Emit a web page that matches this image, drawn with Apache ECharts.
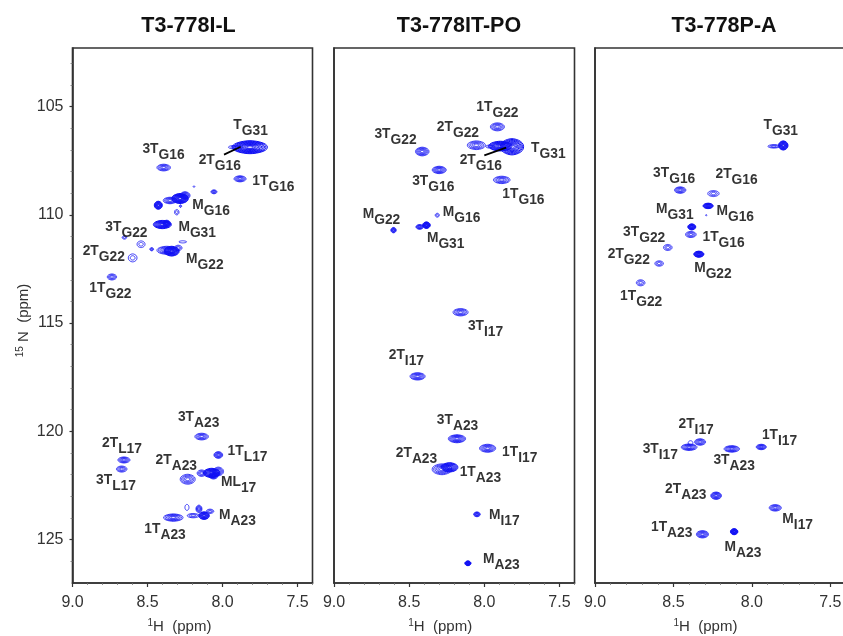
<!DOCTYPE html>
<html><head><meta charset="utf-8">
<style>html,body{margin:0;padding:0;background:#fff;overflow:hidden}#c{width:843px;height:636px}</style>
<script src="https://cdn.jsdelivr.net/npm/echarts@6/dist/echarts.min.js"></script>
</head><body><div id="c"></div>
<script>
// Peaks: [1H ppm, 15N ppm, 1H extent, 15N extent, contour levels]
const peaksIL = [
 [7.817,106.88,.233,.60,11],[7.91,106.88,.10,.18,3],[8.392,107.82,.09,.31,5],[7.883,108.34,.08,.28,5],[8.057,108.94,.04,.18,4],[8.19,108.7,.012,.06,1],
 [8.428,109.56,.053,.37,9],[8.35,109.34,.09,.30,5],[8.283,109.25,.11,.46,12],[8.25,109.11,.067,.35,6],[8.305,109.88,.03,.25,2],[8.28,109.6,.015,.12,2],
 [8.401,110.45,.12,.38,9],[8.372,110.40,.05,.30,7],[8.654,111.05,.03,.15,2],[8.543,111.36,.053,.31,2],[8.599,111.99,.058,.37,2],[8.472,111.59,.025,.15,3],
 [8.372,111.64,.13,.37,6],[8.339,111.68,.10,.45,10],[8.295,111.53,.05,.25,3],[8.265,111.25,.05,.10,1],[8.737,112.87,.062,.28,4],
 [8.139,120.24,.09,.31,5],[8.028,121.09,.058,.31,6],[8.657,121.32,.08,.28,5],[8.672,121.74,.07,.28,4],[8.232,122.21,.10,.46,5],
 [8.139,121.93,.06,.30,4],[8.072,121.92,.11,.43,10],[8.028,121.85,.07,.40,5],[8.06,122.05,.06,.30,6],[8.328,123.98,.13,.34,6],
 [8.237,123.51,.027,.28,1],[8.157,123.58,.04,.35,5],[8.195,123.89,.08,.20,3],[8.123,123.89,.07,.35,9],[8.083,123.69,.05,.20,3]
];
const peaksIT = [
 [7.913,105.94,.093,.37,5],[8.053,106.79,.12,.40,5],[7.816,106.86,.155,.75,9],[7.893,106.83,.155,.45,9],[7.96,106.85,.06,.15,2],[8.413,107.08,.09,.40,6],
 [8.30,107.93,.093,.34,6],[7.884,108.39,.11,.34,5],[8.313,110.02,.027,.18,2],[8.43,110.56,.05,.22,6],[8.385,110.48,.05,.30,10],[8.604,110.71,.035,.25,6],
 [8.158,114.5,.10,.34,5],[8.444,117.46,.10,.34,6],[8.182,120.34,.115,.37,7],[7.978,120.78,.107,.37,6],[8.282,121.75,.13,.50,6],[8.231,121.66,.11,.43,8],
 [8.049,123.83,.044,.22,6],[8.109,126.09,.04,.22,9]
];
const peaksPA = [
 [7.80,106.80,.06,.42,10],[7.86,106.84,.075,.16,3],[8.457,108.86,.072,.30,5],[8.245,109.02,.072,.28,3],[8.279,109.59,.064,.25,9],[8.291,110.02,.008,.06,1],
 [8.383,110.56,.05,.28,9],[8.389,110.91,.068,.28,4],[8.536,111.51,.055,.28,3],[8.591,112.25,.055,.25,3],[8.338,111.82,.064,.28,10],[8.709,113.14,.055,.28,3],
 [8.33,120.49,.07,.30,5],[8.391,120.53,.03,.20,1],[8.40,120.73,.10,.30,6],[8.128,120.81,.098,.30,6],[7.94,120.72,.064,.25,6],[8.228,122.97,.068,.34,7],
 [7.851,123.53,.077,.30,5],[8.315,124.75,.077,.34,6],[8.113,124.63,.047,.28,10]
];
// Labels: [1H ppm, 15N ppm, main text, subscript]
const labelsIL = [
 [7.928,105.99,'T','G31'],[8.534,107.11,'3T','G16'],[8.159,107.6,'2T','G16'],[7.801,108.57,'1T','G16'],[8.201,109.68,'M','G16'],[8.294,110.71,'M','G31'],
 [8.781,110.71,'3T','G22'],[8.932,111.84,'2T','G22'],[8.243,112.17,'M','G22'],[8.888,113.53,'1T','G22'],[8.297,119.5,'3T','A23'],[8.803,120.69,'2T','L17'],
 [7.966,121.07,'1T','L17'],[8.446,121.46,'2T','A23'],[8.843,122.41,'3T','L17'],[8.01,122.49,'ML','17'],[8.023,124.0,'M','A23'],[8.521,124.66,'1T','A23']
];
const labelsIT = [
 [8.053,105.18,'1T','G22'],[8.316,106.09,'2T','G22'],[8.731,106.4,'3T','G22'],[7.689,107.06,'T','G31'],[8.164,107.6,'2T','G16'],[8.48,108.6,'3T','G16'],
 [7.88,109.19,'1T','G16'],[8.276,110.02,'M','G16'],[8.809,110.1,'M','G22'],[8.382,111.22,'M','G31'],[8.109,115.27,'3T','I17'],[8.636,116.61,'2T','I17'],
 [8.316,119.64,'3T','A23'],[7.882,121.1,'1T','I17'],[8.589,121.15,'2T','A23'],[8.164,122.0,'1T','A23'],[7.969,124.03,'M','I17'],[8.009,126.05,'M','A23']
];
const labelsPA = [
 [7.926,105.99,'T','G31'],[8.63,108.22,'3T','G16'],[8.232,108.26,'2T','G16'],[8.611,109.87,'M','G31'],[8.226,109.99,'M','G16'],[8.821,110.96,'3T','G22'],
 [8.315,111.17,'1T','G16'],[8.919,111.94,'2T','G22'],[8.368,112.6,'M','G22'],[8.84,113.91,'1T','G22'],[8.468,119.8,'2T','I17'],[7.936,120.3,'1T','I17'],
 [8.696,120.97,'3T','I17'],[8.245,121.49,'3T','A23'],[8.553,122.81,'2T','A23'],[7.806,124.19,'M','I17'],[8.643,124.58,'1T','A23'],[8.174,125.49,'M','A23']
];
const leaderIL = [[7.99,107.22],[7.879,106.86]];
const leaderIT = [[8.0,107.26],[7.855,106.9]];
const titles = ['T3-778I-L','T3-778IT-PO','T3-778P-A'];
const xMajor = [9.0,8.5,8.0,7.5];
const xMinor = [8.9,8.8,8.7,8.6,8.4,8.3,8.2,8.1,7.9,7.8,7.7,7.6,7.4];
const yMajor = [105,110,115,120,125];
const yMinor = [103,104,106,107,108,109,111,112,113,114,116,117,118,119,121,122,123,124,126];

const panels = [
 {peaks:peaksIL,labels:labelsIL,leader:leaderIL,left:72.5,width:240,titleX:183.5,nameShift:26},
 {peaks:peaksIT,labels:labelsIT,leader:leaderIT,left:334,width:240.5,titleX:454,nameShift:28},
 {peaks:peaksPA,labels:labelsPA,leader:null,left:595,width:251,titleX:719,nameShift:30}
];
const frame = '#333';
const sans = '"Liberation Sans",Arial,sans-serif';
const grid=[],xAxis=[],yAxis=[],series=[],title=[];
function lens(cx,cy,a,b){
  const pts=[];
  for(let k=0;k<28;k++){
    const t=k/28*Math.PI*2,c=Math.cos(t),s=Math.sin(t);
    pts.push([cx+a*Math.sign(c)*Math.pow(Math.abs(c),1.2),cy+b*Math.sign(s)*Math.pow(Math.abs(s),0.9)]);
  }
  return pts;
}
function renderPeak(params,api){
  const c=api.coord([api.value(0),api.value(1)]);
  const sz=api.size([api.value(2),api.value(3)]);
  const n=api.value(4),kids=[];
  for(let i=0;i<n;i++){
    const f=n===1?1:1-i/n*0.9;
    kids.push({type:'polygon',shape:{points:lens(c[0],c[1],sz[0]/2*f,sz[1]/2*f)},
      style:{fill:'none',stroke:'#1010f4',lineWidth:n>=8?1:0.8}});
  }
  return {type:'group',children:kids};
}
panels.forEach((p,i)=>{
  title.push({text:titles[i],left:p.titleX,top:10,textAlign:'center',
    textStyle:{fontFamily:sans,fontSize:21.5,fontWeight:'bold',color:'#111'}});
  grid.push({left:p.left,width:p.width,top:48,height:535,show:true,borderColor:frame,borderWidth:1.6,
    backgroundColor:'transparent',outerBoundsMode:'none',containLabel:false});
  const ix=i*2,iy=i*2;
  xAxis.push({type:'value',gridIndex:i,position:'bottom',inverse:true,min:7.4,max:9.0,splitLine:{show:false},
    name:'{sup|1}{n|H  (ppm)}',nameLocation:'middle',nameGap:35,
    nameTextStyle:{padding:[0,p.nameShift,0,0],rich:{
      sup:{fontFamily:sans,fontSize:10,padding:[0,0,7,0],color:'#333'},
      n:{fontFamily:sans,fontSize:15,color:'#333'}}},
    axisLine:{show:true,lineStyle:{color:frame,width:1.6}},
    axisTick:{show:true,length:4,customValues:xMajor,lineStyle:{color:frame,width:1.2}},
    axisLabel:{show:true,margin:12,customValues:xMajor,formatter:v=>v.toFixed(1),fontFamily:sans,fontSize:16,color:'#333'}});
  xAxis.push({type:'value',gridIndex:i,position:'bottom',inverse:true,min:7.4,max:9.0,splitLine:{show:false},
    axisLine:{show:false},axisLabel:{show:false},
    axisTick:{show:true,length:2,customValues:xMinor,lineStyle:{color:'#777',width:0.8}}});
  yAxis.push(Object.assign({type:'value',gridIndex:i,position:'left',inverse:true,min:102.3,max:127,splitLine:{show:false},
    axisLine:{show:true,lineStyle:{color:frame,width:1.6}}},
    i===0?{
      name:'{sup|15}{n| N  (ppm)}',nameLocation:'middle',nameGap:40,
      nameTextStyle:{padding:[0,10,0,0],rich:{
        sup:{fontFamily:sans,fontSize:10,padding:[0,0,7,0],color:'#333'},
        n:{fontFamily:sans,fontSize:15,color:'#333'}}},
      axisTick:{show:true,length:3,customValues:yMajor,lineStyle:{color:frame,width:1.2}},
      axisLabel:{show:true,margin:9,padding:[4,0,0,0],customValues:yMajor,fontFamily:sans,fontSize:16,color:'#333'}
    }:{axisTick:{show:false},axisLabel:{show:false}}));
  yAxis.push({type:'value',gridIndex:i,position:'left',inverse:true,min:102.3,max:127,splitLine:{show:false},
    axisLine:{show:false},axisLabel:{show:false},
    axisTick:{show:i===0,length:2,customValues:yMinor,lineStyle:{color:'#777',width:0.8}}});
  series.push({type:'custom',name:titles[i]+' contours',xAxisIndex:ix,yAxisIndex:iy,coordinateSystem:'cartesian2d',
    clip:true,silent:true,data:p.peaks,renderItem:renderPeak,encode:{x:0,y:1},z:2});
  if(p.leader) series.push({type:'line',xAxisIndex:ix,yAxisIndex:iy,data:p.leader,symbol:'none',silent:true,
    lineStyle:{color:'#000',width:1.8},z:3});
  series.push({type:'scatter',name:titles[i]+' labels',xAxisIndex:ix,yAxisIndex:iy,symbolSize:0,silent:true,z:4,
    data:p.labels.map(l=>({value:[l[0],l[1]],main:l[2],sub:l[3]})),
    label:{show:true,position:'right',distance:0,
      formatter:o=>'{m|'+o.data.main+'}{s|'+o.data.sub+'}',
      rich:{m:{fontFamily:sans,fontWeight:'bold',fontSize:13.8,color:'#000',padding:[0,0,6,0]},
            s:{fontFamily:sans,fontWeight:'bold',fontSize:13.8,color:'#000',padding:[6,0,0,0]}}}});
});
const chart=echarts.init(document.getElementById('c'),null,{renderer:'canvas'});
chart.setOption({animation:false,backgroundColor:'#fff',title,grid,xAxis,yAxis,series,tooltip:{show:false}});
</script></body></html>
